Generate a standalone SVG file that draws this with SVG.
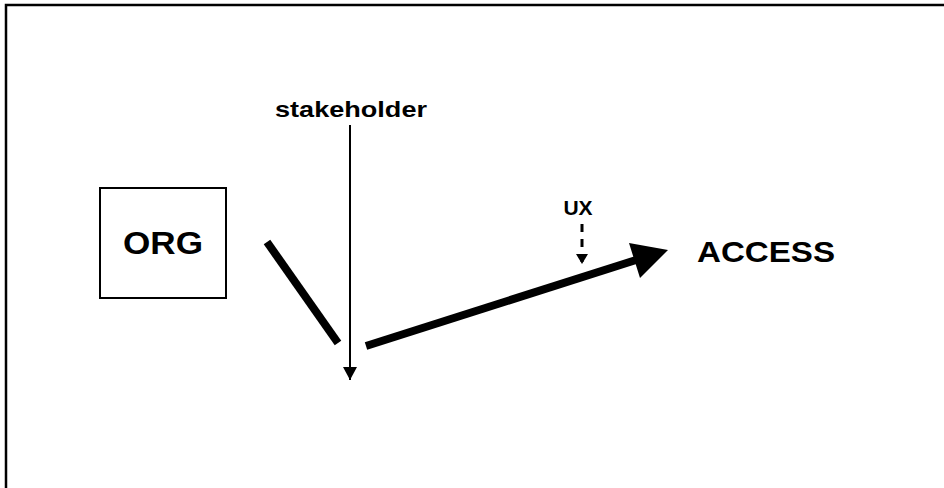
<svg xmlns="http://www.w3.org/2000/svg" width="944" height="488" viewBox="0 0 944 488">
<style>
  .lbl { font-family: "Liberation Sans", Arial, sans-serif; font-weight: bold; fill: #000; }
  .thin { stroke: #000; stroke-width: 2; fill: none; }
  .thick { stroke: #000; stroke-width: 8; fill: none; }
</style>
<defs>
  <marker id="ah" markerWidth="14" markerHeight="16" refX="13" refY="8" orient="auto" markerUnits="userSpaceOnUse">
    <path d="M0,1 L13,8 L0,15 Z" fill="#000"/>
  </marker>
  <marker id="ahd" markerWidth="14" markerHeight="14" refX="10" refY="7" orient="auto" markerUnits="userSpaceOnUse">
    <path d="M0,1 L10,7 L0,13 Z" fill="#000"/>
  </marker>
</defs>
<rect x="0" y="0" width="944" height="488" fill="#fff"/>
<path d="M6,488 L6,5 L944,5" stroke="#000" stroke-width="2.5" fill="none"/>

<g id="org">
  <rect x="100" y="188" width="126" height="110" class="thin"/>
  <text x="163" y="254" text-anchor="middle" class="lbl" font-size="32" textLength="80" lengthAdjust="spacingAndGlyphs">ORG</text>
</g>
<g id="stakeholder">
  <text x="351" y="117" text-anchor="middle" class="lbl" font-size="22" textLength="152" lengthAdjust="spacingAndGlyphs">stakeholder</text>
</g>
<g id="ux">
  <text x="578" y="215" text-anchor="middle" class="lbl" font-size="21">UX</text>
</g>
<g id="access">
  <text x="697" y="262" class="lbl" font-size="30" textLength="138" lengthAdjust="spacingAndGlyphs">ACCESS</text>
</g>

<g id="connectors">
  <line x1="267" y1="242" x2="338" y2="343" class="thick"/>
  <line x1="350" y1="125" x2="350" y2="380" class="thin" marker-end="url(#ah)"/>
  <line x1="582" y1="224" x2="582" y2="264" stroke="#000" stroke-width="3" stroke-dasharray="8,7" marker-end="url(#ahd)"/>
  <line x1="366" y1="346" x2="636" y2="260" class="thick"/>
  <path d="M668,250 L629,243 L640,278 Z" fill="#000"/>
</g>
</svg>
